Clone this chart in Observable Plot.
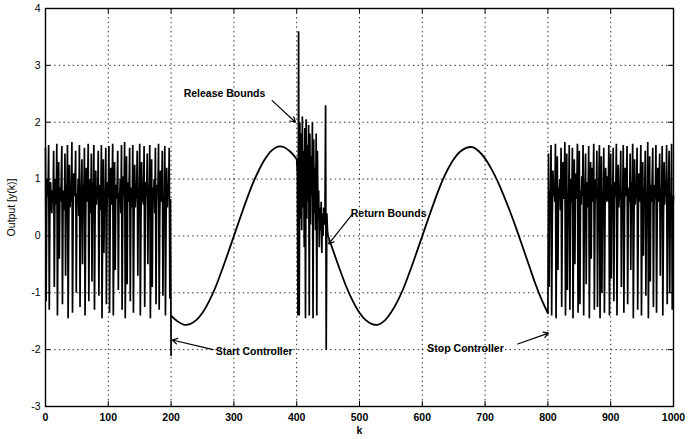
<!DOCTYPE html>
<html>
<head>
<meta charset="utf-8">
<script src="https://cdn.jsdelivr.net/npm/d3@7"></script>
<script src="https://cdn.jsdelivr.net/npm/@observablehq/plot@0.6"></script>
<style>
  html, body { margin: 0; padding: 0; background: #fff; }
</style>
</head>
<body>
<div id="chart"></div>
<script>
// Tick values
const xTicks = [0, 100, 200, 300, 400, 500, 600, 700, 800, 900, 1000];
const yTicks = [-3, -2, -1, 0, 1, 2, 3, 4];

// Chaotic output, k = 0..200 (step 1)
const chaos1Start = 0;
const chaos1 = [
  1.55, -1.15, 0.6, 1.0, 0.7, 1.6, -1.3, 0.45, 0.95, 0.7,
  0.4, 0.8, 0.65, 1.5, -0.9, 0.75, 1.0, 0.55, 1.62, -1.4,
  0.2, 1.3, -0.4, 0.85, 0.6, 0.95, 1.58, -1.2, 0.6, 0.8,
  0.45, 1.45, -0.7, 0.9, 0.7, 1.6, -1.45, 0.1, 1.25, 0.5,
  0.8, 0.6, 1.65, -1.35, 0.3, 1.1, 0.7, 0.9, 1.5, -1.0,
  0.75, 0.55, 1.0, 0.35, 1.6, -1.25, 0.5, 0.85, 1.35, -0.5,
  0.9, 0.65, 1.55, -1.4, 0.25, 1.2, 0.6, 0.8, 1.62, -1.15,
  0.6, 1.0, 0.4, 1.45, -0.8, 0.95, 0.7, 1.6, -1.3, 0.35,
  1.15, 0.55, 0.8, 0.65, 1.5, -1.05, 0.7, 0.9, 0.45, 1.6,
  -1.45, 0.15, 1.35, -0.3, 0.8, 0.6, 1.55, -1.2, 0.5, 0.95,
  0.7, 1.58, -1.35, 0.3, 1.2, 0.55, 0.85, 1.62, -1.4, 0.2,
  1.3, -0.6, 0.9, 0.65, 0.8, 1.5, -0.95, 0.75, 0.6, 1.0,
  0.4, 1.6, -1.3, 0.45, 1.05, 0.7, 1.65, -1.45, 0.05, 1.4,
  -0.85, 0.95, 0.6, 0.75, 1.55, -1.15, 0.6, 0.85, 0.5, 1.6,
  -1.35, 0.3, 1.25, 0.5, 0.9, 0.65, 1.5, -0.7, 0.85, 0.7,
  1.62, -1.4, 0.2, 1.3, 0.6, 0.8, 0.55, 1.58, -1.25, 0.5,
  0.95, 0.7, 1.45, -0.5, 0.9, 0.6, 1.6, -1.45, 0.1, 1.35,
  -0.9, 0.85, 0.65, 1.0, 0.4, 1.55, -1.2, 0.55, 0.9, 0.75,
  1.62, -1.3, 0.35, 1.15, 0.6, 0.85, 1.5, -1.05, 0.7, 0.6,
  1.58, -1.4, 0.25, 1.2, 0.5, 0.9, 0.7, 1.55, -1.1, 0.65,
  -2.1
];

// Controlled output, k = 200..400 (step 10)
const ctrl1Start = 200;
const ctrl1 = [
  -1.4, -1.5, -1.56, -1.55, -1.48, -1.35, -1.16, -0.92, -0.63, -0.32,
  0.0, 0.32, 0.63, 0.92, 1.16, 1.36, 1.5, 1.57, 1.56, 1.48,
  1.35
];

// Bounds released, k = 400..450 (step 1)
const chaos2Start = 400;
const chaos2 = [
  1.35, 1.1, -1.4, 3.6, -1.4, 2.0, 0.3, 1.8, 0.1, 2.1,
  0.5, 1.5, -0.2, 1.9, -1.45, 2.05, 0.3, 1.6, 0.6, 1.95,
  -1.4, 1.8, 0.2, 1.4, 0.7, 2.0, -1.45, 1.7, 0.4, 1.2,
  0.1, 1.8, -1.4, 1.5, 0.3, 0.8, -0.2, 0.5, 0.1, 0.6,
  -0.3, 0.4, 0.0, 0.5, 0.2, 0.3, 2.3, -2.0, 0.4, 0.1,
  0.0
];

// Controlled output, k = 450..800 (step 10)
const ctrl2Start = 450;
const ctrl2 = [
  0.0, -0.32, -0.63, -0.92, -1.16, -1.35, -1.48, -1.55, -1.56, -1.49,
  -1.35, -1.16, -0.92, -0.63, -0.32, 0.0, 0.32, 0.63, 0.92, 1.16,
  1.35, 1.48, 1.55, 1.56, 1.49, 1.36, 1.18, 0.96, 0.7, 0.42,
  0.12, -0.2, -0.52, -0.84, -1.12, -1.36
];

// Controller stopped, k = 800..1000 (step 1)
const chaos3Start = 800;
const chaos3 = [
  -1.35,
  1.45, -0.9, 0.8, 0.55, 1.6, -1.4, 0.3, 1.15, 0.7, 0.9,
  0.6, 1.62, -1.45, 0.2, 1.4, -0.6, 0.85, 0.7, 1.0, 0.45,
  1.55, -1.25, 0.5, 1.3, 0.65, 0.85, 1.65, -1.4, 0.1, 1.45,
  -0.95, 0.75, 0.6, 1.6, -1.3, 0.4, 1.0, 0.6, 1.55, -1.45,
  0.25, 1.35, -0.5, 1.1, 0.65, 0.8, 1.62, -1.35, 0.35, 1.5,
  -1.2, 0.8, 0.55, 1.05, 0.7, 1.6, -1.4, 0.45, 0.9, 1.45,
  -0.85, 0.95, 0.5, 0.75, 1.58, -1.45, 0.15, 1.3, -0.4, 1.2,
  0.6, 0.85, 1.62, -1.3, 0.5, 1.0, 0.65, 1.5, -1.25, 0.6,
  0.85, 1.6, -1.45, 0.3, 1.4, -1.0, 0.8, 0.65, 1.55, -1.35,
  0.4, 1.2, 0.6, 0.9, 1.05, 0.6, 1.6, -1.4, 0.2, 1.45,
  -0.75, 0.9, 0.55, 1.55, -1.15, 0.6, 0.95, 0.7, 1.62, -1.4,
  0.3, 1.25, 0.5, 0.85, 0.65, 1.5, -0.9, 0.8, 0.6, 1.6,
  -1.35, 0.35, 1.2, 0.7, 0.9, 1.58, -1.2, 0.5, 0.85, 0.6,
  1.45, -0.6, 0.95, 0.65, 1.62, -1.45, 0.1, 1.35, 0.55, 0.8,
  0.7, 1.55, -1.3, 0.4, 1.1, 0.6, 0.9, 1.6, -1.4, 0.25,
  1.3, -0.35, 0.85, 0.7, 1.5, -1.05, 0.75, 0.55, 1.65, -1.45,
  0.15, 1.4, -0.8, 0.9, 0.6, 1.0, 1.55, -1.25, 0.5, 0.9,
  0.65, 1.6, -1.35, 0.3, 1.2, 0.6, 0.8, 1.45, -0.7, 0.85,
  0.6, 1.58, -1.4, 0.2, 1.3, 0.55, 0.95, 0.7, 1.6, -1.2,
  0.5, 0.9, 1.5, -1.0, 0.75, 0.6, 1.62, -1.3, 0.45, 0.7
];

// Annotations (data coordinates)
const noteText = ["Release Bounds", "Start Controller", "Return Bounds", "Stop Controller"];
const noteK    = [220, 271, 486, 608];
const noteY    = [2.5, -2.03, 0.39, -1.98];
const arrowFromK = [361, 267, 489, 752];
const arrowFromY = [2.38, -2.0, 0.39, -1.9];
const arrowToK   = [398, 202, 451, 801];
const arrowToY   = [2.0, -1.83, -0.14, -1.71];

// Build tables
function seg(vals, start, step, name) {
  return vals.map((v, i) => ({k: start + i * step, y: v, seg: name}));
}
const chaosData = [
  ...seg(chaos1, chaos1Start, 1, "a"),
  ...seg(chaos2, chaos2Start, 1, "b"),
  ...seg(chaos3, chaos3Start, 1, "c")
];
const ctrlData = [
  ...seg(ctrl1, ctrl1Start, 10, "c1"),
  ...seg(ctrl2, ctrl2Start, 10, "c2")
];
const notes = noteText.map((t, i) => ({
  t, k: noteK[i], y: noteY[i],
  k1: arrowFromK[i], y1: arrowFromY[i], k2: arrowToK[i], y2: arrowToY[i]
}));

const W = 688, H = 439;
const mL = 45, mR = 15, mT = 8, mB = 33;
const fw = W - mL - mR, fh = H - mT - mB;
const fmt = d => String(d);

const chart = Plot.plot({
  width: W,
  height: H,
  marginLeft: mL,
  marginRight: mR,
  marginTop: mT,
  marginBottom: mB,
  style: {fontFamily: "'Liberation Sans', Arial, Helvetica, sans-serif", fontSize: "10.5px", fontWeight: "bold", background: "#fff", color: "#000"},
  x: {domain: [0, 1000]},
  y: {domain: [-3, 4]},
  marks: [
    Plot.gridX(xTicks, {stroke: "#000", strokeOpacity: 0.85, strokeDasharray: "1.4,3.2", strokeWidth: 1}),
    Plot.gridY(yTicks, {stroke: "#000", strokeOpacity: 0.85, strokeDasharray: "1.4,3.2", strokeWidth: 1}),
    Plot.line(chaosData, {x: "k", y: "y", z: "seg", stroke: "#000", strokeWidth: 1.7, strokeLinejoin: "miter", strokeMiterlimit: 2}),
    Plot.line(ctrlData, {x: "k", y: "y", z: "seg", stroke: "#000", strokeWidth: 1.8, curve: "catmull-rom"}),
    // inward ticks on all four sides
    Plot.tickX(xTicks, {x: d => d, insetTop: fh - 5, stroke: "#000", strokeWidth: 1}),
    Plot.tickX(xTicks, {x: d => d, insetBottom: fh - 5, stroke: "#000", strokeWidth: 1}),
    Plot.tickY(yTicks, {y: d => d, insetRight: fw - 5, stroke: "#000", strokeWidth: 1}),
    Plot.tickY(yTicks, {y: d => d, insetLeft: fw - 5, stroke: "#000", strokeWidth: 1}),
    Plot.axisX(xTicks, {tickSize: 0, tickPadding: 7, tickFormat: fmt, label: "k", labelAnchor: "center", labelArrow: "none", labelOffset: 27, fontWeight: "bold"}),
    Plot.axisY(yTicks, {tickSize: 0, tickPadding: 5, tickFormat: fmt, label: "Output [y(k)]", labelAnchor: "center", labelArrow: "none", labelOffset: 38, fontWeight: "normal"}),
    Plot.frame({stroke: "#000", strokeWidth: 1.4}),
    Plot.arrow(notes, {x1: "k1", y1: "y1", x2: "k2", y2: "y2", stroke: "#000", strokeWidth: 1.2, headLength: 7, bend: false}),
    Plot.text(notes, {x: "k", y: "y", text: "t", textAnchor: "start", fill: "#000", fontSize: 10.5, fontWeight: "bold"})
  ]
});
document.getElementById("chart").appendChild(chart);
</script>
</body>
</html>
